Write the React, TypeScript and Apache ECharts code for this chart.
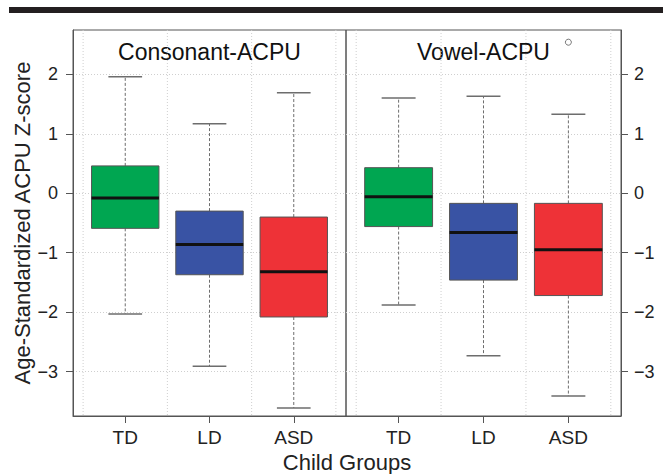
import React, { useEffect, useRef } from 'react';
import * as echarts from 'echarts';

// ---- data ----
const groups = ['TD', 'LD', 'ASD'];
const panelTitles = ['Consonant-ACPU', 'Vowel-ACPU'];
const xPositions = [1, 2, 3];
// each: [lowerWhisker, Q1, median, Q3, upperWhisker]
const consonantTD = [-2.03, -0.59, -0.08, 0.46, 1.96];
const consonantLD = [-2.91, -1.37, -0.86, -0.3, 1.17];
const consonantASD = [-3.61, -2.08, -1.32, -0.4, 1.69];
const vowelTD = [-1.88, -0.56, -0.06, 0.43, 1.6];
const vowelLD = [-2.73, -1.46, -0.66, -0.17, 1.63];
const vowelASD = [-3.41, -1.72, -0.95, -0.17, 1.33];
const vowelOutliers = [[3, 2.54]];
const consonantOutliers: number[][] = [];
const yTicks = [-3, -2, -1, 0, 1, 2];
const gridXs = [0.5, 1.5, 2.5, 3.5];
const boxColors = ['#00a651', '#3953a4', '#ee3237'];

const FONT = "'Liberation Sans', Arial, Helvetica, sans-serif";

const fmtY = (v: number) => (v < 0 ? '\u2212' + Math.abs(v) : String(v));

const renderBox = (params: any, api: any) => {
  const x = api.value(0);
  const lo = api.value(1);
  const q1 = api.value(2);
  const med = api.value(3);
  const q3 = api.value(4);
  const hi = api.value(5);
  const half = api.size([0.4, 0])[0];
  const capHalf = half / 2;
  const c = (v: number) => api.coord([x, v]);
  const pLo = c(lo), pQ1 = c(q1), pMed = c(med), pQ3 = c(q3), pHi = c(hi);
  const cx = pMed[0];
  const color = boxColors[params.dataIndex % boxColors.length];
  const whisker = { stroke: '#6d6d6d', lineWidth: 1, lineDash: [3, 2] };
  const cap = { stroke: '#6d6d6d', lineWidth: 1.5 };
  return {
    type: 'group',
    children: [
      { type: 'line', shape: { x1: cx, y1: pQ3[1], x2: cx, y2: pHi[1] }, style: whisker },
      { type: 'line', shape: { x1: cx, y1: pQ1[1], x2: cx, y2: pLo[1] }, style: whisker },
      { type: 'line', shape: { x1: cx - capHalf, y1: pHi[1], x2: cx + capHalf, y2: pHi[1] }, style: cap },
      { type: 'line', shape: { x1: cx - capHalf, y1: pLo[1], x2: cx + capHalf, y2: pLo[1] }, style: cap },
      {
        type: 'rect',
        shape: { x: cx - half, y: pQ3[1], width: half * 2, height: pQ1[1] - pQ3[1] },
        style: { fill: color, stroke: '#555555', lineWidth: 1 },
      },
      { type: 'line', shape: { x1: cx - half, y1: pMed[1], x2: cx + half, y2: pMed[1] }, style: { stroke: '#111', lineWidth: 3 } },
    ],
  };
};

const renderVGrid = (params: any, api: any) => {
  const cs = params.coordSys;
  const p = api.coord([api.value(0), 0]);
  return {
    type: 'line',
    shape: { x1: p[0], y1: cs.y, x2: p[0], y2: cs.y + cs.height },
    style: { stroke: '#cfcfcf', lineWidth: 1, lineDash: [1, 2] },
  };
};

export default function App() {
  const ref = useRef<HTMLDivElement>(null);
  useEffect(() => {
    document.body.style.margin = '0';
    if (!ref.current) return;
    const chart = echarts.init(ref.current, undefined, { renderer: 'svg' });
    const panels = [
      [consonantTD, consonantLD, consonantASD],
      [vowelTD, vowelLD, vowelASD],
    ];
    const outliers = [consonantOutliers, vowelOutliers];
    const grids = [
      { left: 73, top: 30, width: 273, height: 386 },
      { left: 346, top: 30, width: 275, height: 386 },
    ];
    const xAxis = grids.map((_, i) => ({
      type: 'value',
      gridIndex: i,
      min: 0.38,
      max: 3.62,
      position: 'bottom',
      axisLine: { show: true, onZero: false, lineStyle: { color: '#555', width: 1 } },
      axisTick: { show: true, customValues: xPositions, length: 7, lineStyle: { color: '#555' } },
      axisLabel: {
        show: true,
        customValues: xPositions,
        formatter: (v: number) => groups[Math.round(v) - 1],
        margin: 12,
        fontSize: 19,
        fontFamily: FONT,
        color: '#222',
      },
      splitLine: { show: false },
    }));
    const yAxis = grids.map((_, i) => ({
      type: 'value',
      gridIndex: i,
      min: -3.745,
      max: 2.745,
      position: i === 0 ? 'left' : 'right',
      name: i === 0 ? 'Age-Standardized ACPU Z-score' : '',
      nameLocation: 'middle',
      nameRotate: 90,
      nameGap: 37,
      nameTextStyle: { fontSize: 22, fontFamily: FONT, color: '#222' },
      axisLine: { show: true, onZero: false, lineStyle: { color: '#555', width: 1 } },
      axisTick: { show: true, customValues: yTicks, length: 7, lineStyle: { color: '#555' } },
      axisLabel: {
        show: true,
        customValues: yTicks,
        formatter: fmtY,
        margin: i === 0 ? 15 : 13,
        fontSize: 18,
        fontFamily: FONT,
        color: '#222',
      },
      splitLine: { show: true, lineStyle: { color: '#cfcfcf', type: [1, 2], width: 1 } },
    }));
    const series: any[] = [];
    panels.forEach((boxes, i) => {
      series.push({
        type: 'custom',
        xAxisIndex: i,
        yAxisIndex: i,
        z: 1,
        silent: true,
        renderItem: renderVGrid,
        data: gridXs.map((g) => [g]),
      });
      series.push({
        type: 'custom',
        xAxisIndex: i,
        yAxisIndex: i,
        z: 3,
        renderItem: renderBox,
        encode: { x: 0, y: [1, 2, 3, 4, 5] },
        data: boxes.map((b, j) => [xPositions[j], ...b]),
      });
      series.push({
        type: 'scatter',
        xAxisIndex: i,
        yAxisIndex: i,
        z: 4,
        symbol: 'circle',
        symbolSize: 6,
        itemStyle: { color: '#fff', borderColor: '#555', borderWidth: 1 },
        data: outliers[i],
      });
    });
    chart.setOption({
      animation: false,
      backgroundColor: '#fff',
      grid: grids.map((g) => ({ ...g, show: true, borderColor: '#555', borderWidth: 1, backgroundColor: 'transparent' })),
      xAxis,
      yAxis,
      series,
      graphic: [
        { type: 'rect', shape: { x: 9, y: 7, width: 654, height: 6 }, style: { fill: '#231f20' } },
        {
          type: 'text', x: 209.5, y: 52,
          style: { text: panelTitles[0], fontSize: 23, fontFamily: FONT, fill: '#111', align: 'center', verticalAlign: 'middle' },
        },
        {
          type: 'text', x: 483.5, y: 52,
          style: { text: panelTitles[1], fontSize: 23, fontFamily: FONT, fill: '#111', align: 'center', verticalAlign: 'middle' },
        },
        {
          type: 'text', x: 347, y: 462,
          style: { text: 'Child Groups', fontSize: 22, fontFamily: FONT, fill: '#222', align: 'center', verticalAlign: 'middle' },
        },
      ],
    });
    return () => chart.dispose();
  }, []);
  return <div ref={ref} style={{ width: 663, height: 474 }} />;
}
